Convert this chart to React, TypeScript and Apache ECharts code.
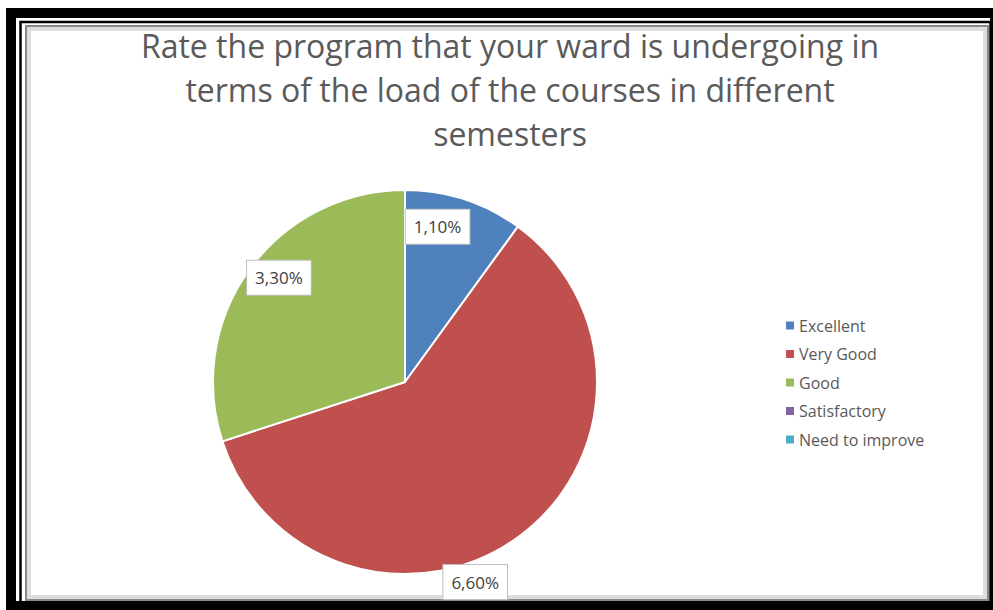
import React, { useEffect, useRef } from "react";
import * as echarts from "echarts";

const titleLines = [
  "Rate the program that your ward is undergoing in",
  "terms of the load of the courses in different",
  "semesters",
];
const categories = ["Excellent", "Very Good", "Good", "Satisfactory", "Need to improve"];
const values = [1, 6, 3, 0, 0];
const colors = ["#4F81BD", "#C0504D", "#9BBB59", "#8064A2", "#4BACC6"];
const labelOffsets: [number, number][] = [[2, -61], [12, 120], [-46, -46], [0, 0], [0, 0]];

export default function App() {
  const ref = useRef<HTMLDivElement>(null);
  useEffect(() => {
    if (!ref.current) return;
    const chart = echarts.init(ref.current, null, { renderer: "svg" });
    const data = categories.map((name, i) => ({
      name,
      value: values[i],
      itemStyle: { color: colors[i] },
      label: values[i] === 0 ? { show: false } : { offset: labelOffsets[i] },
    }));
    chart.setOption({
      animation: false,
      backgroundColor: "#ffffff",
      title: {
        text: titleLines.join("\n"),
        left: 505,
        textAlign: "center",
        top: 18,
        textStyle: {
          fontFamily: "Open Sans",
          fontSize: 32,
          fontWeight: "normal",
          color: "#5a5a5a",
          lineHeight: 44,
        },
      },
      legend: {
        orient: "vertical",
        left: 779,
        top: 311,
        itemWidth: 10,
        itemHeight: 10,
        itemGap: 9.5,
        icon: "rect",
        textStyle: { fontFamily: "Open Sans", fontSize: 16, color: "#595959", lineHeight: 19, padding: [0, 0, 0, -1] },
        data: categories,
      },
      series: [
        {
          type: "pie",
          center: [405, 382],
          radius: [0, 192],
          startAngle: 90,
          clockwise: true,
          avoidLabelOverlap: false,
          stillShowZeroSum: false,
          itemStyle: { borderColor: "#ffffff", borderWidth: 2 },
          label: {
            show: true,
            position: "inside",
            formatter: "{c},{d}%",
            fontFamily: "Open Sans",
            fontSize: 17,
            color: "#404040",
            backgroundColor: "#ffffff",
            borderColor: "#bfbfbf",
            borderWidth: 1,
            padding: [9, 8, 8, 8],
          },
          labelLine: { show: false },
          emphasis: { disabled: true },
          data,
        },
      ],
      graphic: [
        {
          type: "rect",
          silent: true,
          shape: { x: 11, y: 13, width: 984, height: 593 },
          style: { fill: "none", stroke: "#000000", lineWidth: 10 },
        },
        {
          type: "rect",
          silent: true,
          shape: { x: 20.5, y: 22, width: 970, height: 581 },
          style: { fill: "none", stroke: "#000000", lineWidth: 2.5 },
        },
        {
          type: "rect",
          silent: true,
          shape: { x: 26, y: 26, width: 962, height: 574 },
          style: { fill: "none", stroke: "#888888", lineWidth: 2 },
        },
        {
          type: "rect",
          silent: true,
          shape: { x: 29, y: 29, width: 956, height: 568 },
          style: { fill: "none", stroke: "#dddddd", lineWidth: 4 },
        },
        {
          type: "line",
          silent: true,
          shape: { x1: 6, y1: 609, x2: 993, y2: 609 },
          style: { stroke: "#000000", lineWidth: 2 },
        },
      ],
    });
    return () => chart.dispose();
  }, []);
  return (
    <div
      ref={ref}
      style={{ position: "fixed", left: 0, top: 0, width: 993, height: 610 }}
    />
  );
}
